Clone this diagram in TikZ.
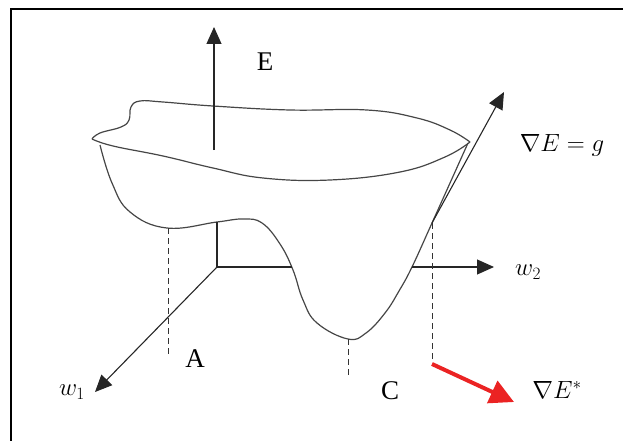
\documentclass[tikz,border=0pt]{standalone}
\usepackage{fontspec}
\setmainfont{Liberation Serif}
\usetikzlibrary{arrows.meta}
\definecolor{surfgray}{RGB}{70,70,70}
\definecolor{gradred}{RGB}{235,35,35}

\begin{document}
\begin{tikzpicture}[
    x=1pt, y=-1pt,
    every node/.style={font=\fontsize{27}{32}\selectfont, inner sep=0pt},
    axis/.style={line width=1.1pt, draw=black!85, -{Triangle[length=17pt,width=15pt]}},
    axisline/.style={line width=1.1pt, draw=black!85},
    surf/.style={line width=1.2pt, draw=surfgray},
    drop/.style={line width=0.8pt, draw=black!80, dash pattern=on 6pt off 4pt},
    gradarrow/.style={line width=4pt, draw=gradred, -{Triangle[length=24pt,width=24pt]}}
]
\useasboundingbox (0,0) rectangle (623,441);

% Frame
\draw[line width=2pt] (11,441) -- (11,9) -- (623,9);

% Axis points
\coordinate (O) at (217,267);
\coordinate (Ein) at (217,222);
\coordinate (Ebase) at (214,150);
\coordinate (Etip) at (214,27);
\coordinate (W2hide) at (292,267);
\coordinate (W2out) at (412,267);
\coordinate (W2tip) at (494,267);
\coordinate (W1tip) at (95,392);

% Error surface: upper and lower rim
\draw[surf] plot[smooth, tension=0.7] coordinates {
    (92,139) (100,133) (121,127) (129,120) (131,107) (140,101)
    (163,102) (213,106) (290,110) (367,110) (417,118) (450,130) (470,142)};
\draw[surf] plot[smooth, tension=0.7] coordinates {
    (470,142) (445,157) (400,172) (330,180) (263,178) (213,168)
    (163,156) (113,146) (92,139)};
% Error surface: bowl
\draw[surf] plot[smooth, tension=0.7] coordinates {
    (100,145) (112,183) (130,212) (167,228) (217,222) (243,219)
    (262,223) (280,244) (293,270) (303,300) (317,323) (348,339)
    (366,333) (385,313) (399,291) (412,267) (432,223) (468,143)};

% Axes
\draw[axis] (Ebase) -- (Etip);
\draw[axisline] (O) -- (Ein);
\draw[axisline] (O) -- (W2hide);
\draw[axis] (W2out) -- (W2tip);
\draw[axis] (O) -- (W1tip);

% Projections onto the weight plane
\coordinate (Aup) at (168,228);
\coordinate (Adown) at (168,355);
\coordinate (Cup) at (348,339);
\coordinate (Cdown) at (348,378);
\coordinate (Gup) at (432,223);
\coordinate (Gdown) at (432,362);
\draw[drop] (Aup) -- (Adown);
\draw[drop] (Cup) -- (Cdown);
\draw[drop] (Gup) -- (Gdown);

% Gradient and steepest descent
\coordinate (Gtip) at (504,92);
\coordinate (Dstart) at (432,364);
\coordinate (Dtip) at (514,402);
\draw[axis] (Gup) -- (Gtip);
\draw[gradarrow] (Dstart) -- (Dtip);

% Labels
\node (E_label) at (265,62) {E};
\node (g_label) at (562,145) {$\nabla E = g$};
\node (w2_label) at (528,272) {$w_2$};
\node (w1_label) at (72,392) {$w_1$};
\node (A_label) at (195,359) {A};
\node (C_label) at (390,391) {C};
\node (dE_label) at (557,390) {$\nabla E^{*}$};

\end{tikzpicture}
\end{document}
